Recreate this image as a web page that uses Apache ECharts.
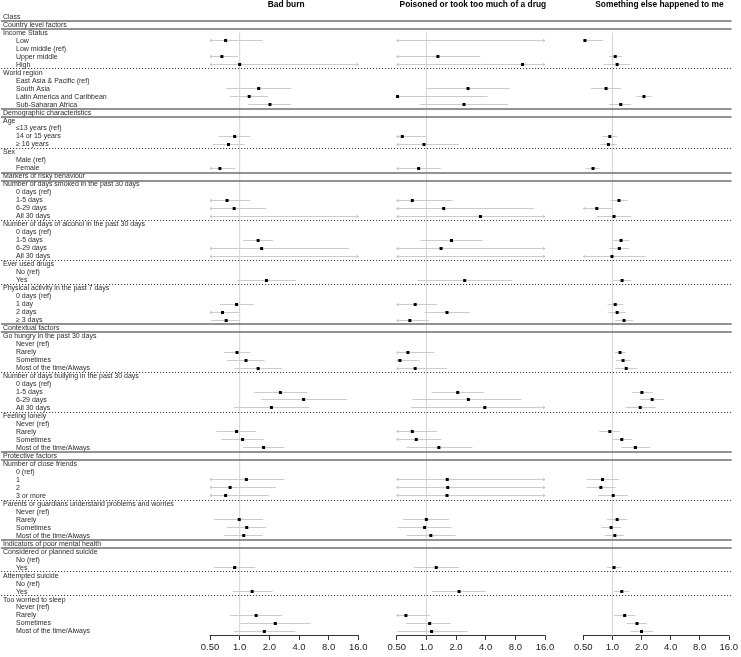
<!DOCTYPE html>
<html><head><meta charset="utf-8">
<script src="https://cdn.jsdelivr.net/npm/echarts@6/dist/echarts.min.js"></script>
<style>html,body{margin:0;padding:0;background:#fff}#c{width:741px;height:657px}</style>
</head><body><div id="c"></div><script>
const N = null;
const categories = [
  'Class','Country level factors','Income Status','Low','Low middle (ref)','Upper middle','High',
  'World region','East Asia & Pacific (ref)','South Asia','Latin America and Caribbean','Sub-Saharan Africa',
  'Demographic characteristics','Age','≤13 years (ref)','14 or 15 years','≥ 16 years','Sex','Male (ref)','Female',
  'Markers of risky behaviour','Number of days smoked in the past 30 days','0 days (ref)','1-5 days','6-29 days','All 30 days',
  'Number of days of alcohol in the past 30 days','0 days (ref)','1-5 days','6-29 days','All 30 days',
  'Ever used drugs','No (ref)','Yes','Physical activity in the past 7 days','0 days (ref)','1 day','2 days','≥ 3 days',
  'Contextual factors','Go hungry in the past 30 days','Never (ref)','Rarely','Sometimes','Most of the time/Always',
  'Number of days bullying in the past 30 days','0 days (ref)','1-5 days','6-29 days','All 30 days',
  'Feeling lonely','Never (ref)','Rarely','Sometimes','Most of the time/Always',
  'Protective factors','Number of close friends','0 (ref)','1','2','3 or more',
  'Parents or guardians understand problems and worries','Never (ref)','Rarely','Sometimes','Most of the time/Always',
  'Indicators of poor mental health','Considered or planned suicide','No (ref)','Yes',
  'Attempted suicide','No (ref)','Yes','Too worried to sleep','Never (ref)','Rarely','Sometimes','Most of the time/Always'
];
// C = class header, S = section, V = variable, L = level
const rowType = [
  'C','S','V','L','L','L','L','V','L','L','L','L',
  'S','V','L','L','L','V','L','L',
  'S','V','L','L','L','L','V','L','L','L','L','V','L','L','V','L','L','L','L',
  'S','V','L','L','L','L','V','L','L','L','L','V','L','L','L','L',
  'S','V','L','L','L','L','V','L','L','L','L',
  'S','V','L','L','V','L','L','V','L','L','L','L'
];
const panelTitles = ['Bad burn','Poisoned or took too much of a drug','Something else happened to me'];
const tickValues = [0.5, 1, 2, 4, 8, 16];
const tickLabels = ['0.50','1.0','2.0','4.0','8.0','16.0'];

const burnEst = [
  N,N,N,0.72,N,0.66,1.00,N,N,1.56,
  1.25,2.03,N,N,N,0.89,0.77,N,N,0.63,
  N,N,N,0.745,0.88,N,N,N,1.54,1.67,
  N,N,N,1.87,N,N,0.93,0.67,0.73,N,
  N,N,0.94,1.16,1.54,N,N,2.59,4.46,2.10,
  N,N,0.93,1.07,1.75,N,N,N,1.17,0.80,
  0.72,N,N,0.99,1.18,1.10,N,N,N,0.89,
  N,N,1.34,N,N,1.47,2.30,1.78];
const burnLo = [
  N,N,N,0.5,N,0.5,0.5,N,N,0.73,
  0.80,1.23,N,N,N,0.61,0.53,N,N,0.5,
  N,N,N,0.5,0.5,0.5,N,N,1.08,0.5,
  0.5,N,N,0.955,N,N,0.63,0.5,0.51,N,
  N,N,0.69,0.745,0.89,N,N,1.41,1.65,0.87,
  N,N,0.58,0.65,1.08,N,N,N,0.5,0.5,
  0.5,N,N,0.55,0.745,0.70,N,N,N,0.55,
  N,N,0.85,N,N,0.80,1.02,0.87];
const burnHi = [
  N,N,N,1.71,N,0.96,16,N,N,3.35,
  1.94,3.32,N,N,N,1.28,1.12,N,N,0.905,
  N,N,N,1.28,1.85,16,N,N,2.18,12.8,
  16,N,N,3.73,N,N,1.39,1.0,1.0,N,
  N,N,1.28,1.79,2.69,N,N,4.83,12.3,5.1,
  N,N,1.47,1.75,2.84,N,N,N,2.84,2.34,
  1.97,N,N,1.73,1.85,1.71,N,N,N,1.44,
  N,N,2.16,N,N,2.69,5.22,3.67];

const poisonEst = [
  N,N,N,N,N,1.31,9.47,N,N,2.65,
  0.51,2.41,N,N,N,0.57,0.946,N,N,0.835,
  N,N,N,0.72,1.50,3.54,N,N,1.80,1.41,
  N,N,N,2.45,N,N,0.77,1.62,0.68,N,
  N,N,0.65,0.54,0.77,N,N,2.08,2.67,3.92,
  N,N,0.72,0.79,1.34,N,N,N,1.63,1.65,
  1.62,N,N,1.00,0.96,1.11,N,N,N,1.26,
  N,N,2.15,N,N,0.62,1.08,1.13];
const poisonLo = [
  N,N,N,0.5,N,0.5,0.5,N,N,1.0,
  0.5,0.855,N,N,N,0.5,0.5,N,N,0.5,
  N,N,N,0.5,0.5,0.5,N,N,0.87,0.5,
  0.5,N,N,0.81,N,N,0.5,0.96,0.5,N,
  N,N,0.5,0.5,0.5,N,N,1.13,0.72,0.70,
  N,N,0.5,0.5,0.63,N,N,N,0.5,0.5,
  0.5,N,N,0.58,0.51,0.63,N,N,N,0.75,
  N,N,1.14,N,N,0.5,0.62,0.51];
const poisonHi = [
  N,N,N,16,N,3.54,16,N,N,7.03,
  4.17,6.76,N,N,N,1.0,2.15,N,N,1.40,
  N,N,N,1.84,12.4,16,N,N,3.71,16,
  16,N,N,7.49,N,N,1.29,2.76,1.06,N,
  N,N,1.20,0.855,1.63,N,N,3.83,9.2,16,
  N,N,1.29,1.42,2.94,N,N,N,16,16,
  16,N,N,1.70,1.80,1.97,N,N,N,2.15,
  N,N,4.0,N,N,1.08,1.77,2.63];

const otherEst = [
  N,N,N,0.52,N,1.07,1.12,N,N,0.86,
  2.12,1.22,N,N,N,0.94,0.91,N,N,0.63,
  N,N,N,1.17,0.69,1.04,N,N,1.23,1.18,
  0.99,N,N,1.26,N,N,1.07,1.12,1.32,N,
  N,N,1.20,1.29,1.39,N,N,2.02,2.58,1.94,
  N,N,0.94,1.25,1.73,N,N,N,0.79,0.76,
  1.02,N,N,1.12,0.97,1.06,N,N,N,1.04,
  N,N,1.25,N,N,1.34,1.80,2.00];
const otherLo = [
  N,N,N,0.5,N,0.925,0.81,N,N,0.60,
  1.77,0.925,N,N,N,0.79,0.75,N,N,0.53,
  N,N,N,0.955,0.5,0.69,N,N,1.02,0.925,
  0.5,N,N,1.02,N,N,0.89,0.91,1.07,N,
  N,N,1.06,1.08,1.07,N,N,1.60,1.94,1.37,
  N,N,0.73,1.0,1.23,N,N,N,0.54,0.54,
  0.71,N,N,0.88,0.77,0.83,N,N,N,0.88,
  N,N,1.04,N,N,1.04,1.42,1.54];
const otherHi = [
  N,N,N,0.80,N,1.25,1.54,N,N,1.23,
  2.55,1.56,N,N,N,1.12,1.11,N,N,0.74,
  N,N,N,1.44,1.0,1.57,N,N,1.50,1.48,
  2.22,N,N,1.57,N,N,1.29,1.38,1.64,N,
  N,N,1.38,1.55,1.80,N,N,2.61,3.44,2.80,
  N,N,1.19,1.60,2.45,N,N,N,1.17,1.08,
  1.45,N,N,1.43,1.23,1.32,N,N,N,1.23,
  N,N,1.50,N,N,1.73,2.27,2.65];

const panels = [
  {est: burnEst, lo: burnLo, hi: burnHi},
  {est: poisonEst, lo: poisonLo, hi: poisonHi},
  {est: otherEst, lo: otherLo, hi: otherHi}
];

// layout (px)
const W = 741;
const gridTop = 12.8, gridBottom = 21.5;
const panelLeft = [210, 396.7, 583.3];
const panelWidth = 148.3;
const FONT = 'Liberation Sans, Arial, Helvetica, sans-serif';
const nRows = categories.length;
const xMin = tickValues[0], xMax = tickValues[tickValues.length - 1];

function tickFmt(v) {
  for (let i = 0; i < tickValues.length; i++) {
    if (Math.abs(Math.log2(v) - Math.log2(tickValues[i])) < 1e-6) return tickLabels[i];
  }
  return '';
}

function renderCI(params, api) {
  const lo = api.value(0), hi = api.value(1), est = api.value(2);
  const yv = api.value(3) + 0.5;
  const a = api.coord([Math.max(lo, xMin), yv]);
  const b = api.coord([Math.min(hi, xMax), yv]);
  const y = Math.round(a[1] - 0.5) + 0.5;
  const grey = '#cccccc';
  const ch = [{type: 'line', shape: {x1: a[0], y1: y, x2: b[0], y2: y}, style: {stroke: grey, lineWidth: 1}}];
  if (lo <= xMin) ch.push({type: 'polyline', shape: {points: [[a[0] + 2, y - 1.3], [a[0], y], [a[0] + 2, y + 1.3]]}, style: {stroke: '#bbbbbb', lineWidth: 0.8, fill: null}});
  if (hi >= xMax) ch.push({type: 'polyline', shape: {points: [[b[0] - 2, y - 1.3], [b[0], y], [b[0] - 2, y + 1.3]]}, style: {stroke: '#bbbbbb', lineWidth: 0.8, fill: null}});
  if (est != null && !isNaN(est)) {
    const p = api.coord([est, yv]);
    ch.push({type: 'rect', shape: {x: p[0] - 1.5, y: y - 1.5, width: 3, height: 3}, style: {fill: '#000'}});
  }
  return {type: 'group', children: ch};
}

const grids = [], xAxes = [], yAxes = [], series = [];
const firstVar = rowType.indexOf('V');

panels.forEach((p, k) => {
  grids.push({left: panelLeft[k], width: panelWidth, top: gridTop, bottom: gridBottom});
  xAxes.push({
    type: 'log', logBase: 2, gridIndex: k, min: xMin, max: xMax, position: 'bottom',
    axisLine: {show: true, onZero: false, lineStyle: {color: '#333', width: 1}},
    axisTick: {show: true, length: 4.5, lineStyle: {color: '#333', width: 1}},
    axisLabel: {formatter: tickFmt, color: '#222', fontSize: 9.5, fontFamily: FONT, margin: 7},
    splitLine: {show: false}, minorTick: {show: false}, minorSplitLine: {show: false}
  });
  yAxes.push({type: 'value', gridIndex: k, min: 0, max: nRows, inverse: true, show: false});
  const data = [];
  for (let i = 0; i < nRows; i++) {
    if (p.lo[i] != null) data.push([p.lo[i], p.hi[i], p.est[i], i]);
  }
  series.push({
    type: 'line', xAxisIndex: k, yAxisIndex: k, data: [[1, firstVar + 0.5], [1, nRows]],
    symbol: 'none', lineStyle: {color: '#d4d4d4', width: 1}, silent: true, z: 1, animation: false
  });
  series.push({
    type: 'custom', xAxisIndex: k, yAxisIndex: k, data: data,
    dimensions: ['lo', 'hi', 'est', 'row'], encode: {x: [0, 1, 2], y: 3},
    renderItem: renderCI, clip: false, silent: true, z: 3
  });
});

// overlay grid for row labels and separators
const ov = panels.length;
grids.push({left: 0, right: W - (panelLeft[2] + panelWidth), top: gridTop, bottom: gridBottom});
xAxes.push({type: 'value', gridIndex: ov, min: 0, max: 1, show: false});
yAxes.push({
  type: 'category', gridIndex: ov, inverse: true, data: categories.map((c, i) => i),
  axisLine: {show: false}, axisTick: {show: false}, splitLine: {show: false},
  axisLabel: {
    inside: true, margin: 2, interval: 0, color: '#2a2a2a', fontSize: 7, fontFamily: FONT,
    formatter: (v, i) => rowType[i] === 'L' ? '{i|' + categories[i] + '}' : '{h|' + categories[i] + '}',
    rich: {
      h: {fontSize: 7, fontFamily: FONT, color: '#2a2a2a'},
      i: {fontSize: 7, fontFamily: FONT, color: '#2a2a2a', padding: [0, 0, 0, 13]}
    }
  }
});
yAxes.push({type: 'value', gridIndex: ov, min: 0, max: nRows, inverse: true, show: false, position: 'right'});

const sepLines = [];
for (let i = 0; i < nRows; i++) {
  if (rowType[i] === 'S') {
    sepLines.push({yAxis: i, lineStyle: {type: 'solid', color: '#6e6e6e', width: 1.5}});
    sepLines.push({yAxis: i + 1, lineStyle: {type: 'solid', color: '#6e6e6e', width: 1.5}});
  } else if (rowType[i] === 'V' && rowType[i - 1] === 'L') {
    sepLines.push({yAxis: i, lineStyle: {type: [1.2, 1.8], color: '#444', width: 1}});
  }
}
series.push({
  type: 'line', xAxisIndex: ov, yAxisIndex: ov + 1, data: [], silent: true, z: 5,
  markLine: {silent: true, symbol: ['none', 'none'], label: {show: false}, animation: false, data: sepLines}
});

const chart = echarts.init(document.getElementById('c'), null, {renderer: 'canvas'});
chart.setOption({
  animation: false,
  backgroundColor: '#fff',
  title: panelTitles.map((t, k) => ({
    text: t, left: panelLeft[k] + panelWidth / 2 + 2, top: 1, padding: 0, textAlign: 'center',
    textStyle: {fontSize: 8.4, fontWeight: 'bold', color: '#000', fontFamily: FONT}
  })),
  grid: grids, xAxis: xAxes, yAxis: yAxes, series: series
});
</script></body></html>
